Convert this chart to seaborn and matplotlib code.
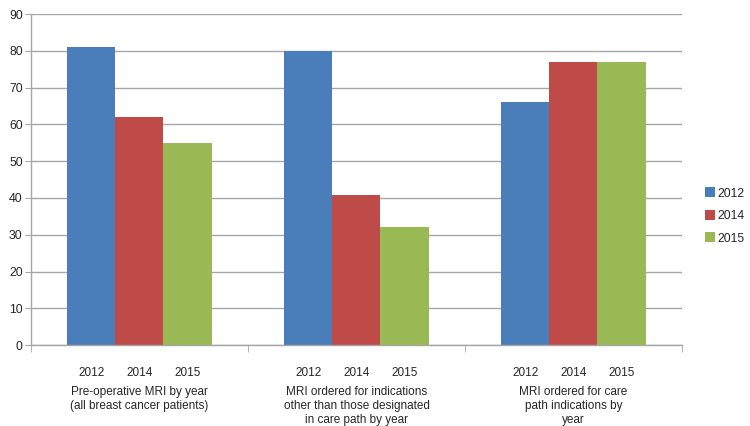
import pandas as pd
import matplotlib
matplotlib.use("Agg")
import matplotlib.pyplot as plt
import matplotlib.transforms as mtransforms
import seaborn as sns

# Données
groups = [
    "Pre-operative MRI by year\n(all breast cancer patients)",
    "MRI ordered for indications\nother than those designated\nin care path by year",
    "MRI ordered for care\npath indications by\nyear",
]
years = ["2012", "2014", "2015"]
values_2012 = [81, 80, 66]
values_2014 = [62, 40.7, 77]
values_2015 = [55, 32, 77]
colors = ["#4A7EBB", "#BE4B48", "#98B954"]

df = pd.DataFrame({
    "group": groups * 3,
    "year": [y for y in years for _ in groups],
    "value": values_2012 + values_2014 + values_2015,
})

sns.set_style("white")
plt.rcParams["font.family"] = ["Liberation Sans", "DejaVu Sans"]

fig = plt.figure(figsize=(7.5, 4.26), dpi=100)
ax = fig.add_axes([0.0413, 0.190, 0.868, 0.777])

sns.barplot(data=df, x="group", y="value", hue="year", hue_order=years,
            palette=colors, width=0.664, gap=0, saturation=1,
            errorbar=None, ax=ax, legend=True, linewidth=0)

ax.set_xlim(-0.5, len(groups) - 0.5)
ax.set_ylim(0, 90)
ax.set_yticks(range(0, 91, 10))
ax.yaxis.grid(True, color="#A6A6A6", linewidth=1)
ax.set_axisbelow(True)
for side in ["top", "right"]:
    ax.spines[side].set_visible(False)
for side in ["left", "bottom"]:
    ax.spines[side].set_color("#A6A6A6")
    ax.spines[side].set_linewidth(1)
ax.tick_params(axis="y", length=4, color="#A6A6A6", labelsize=8.8, pad=2,
               direction="out", left=True)
ax.set_xlabel("")
ax.set_ylabel("")

# Années sous chaque barre
centers, labels = [], []
for year, cont in zip(years, ax.containers):
    for bar in cont:
        centers.append(bar.get_x() + bar.get_width() / 2)
        labels.append(year)
ax.set_xticks(centers)
ax.set_xticklabels(labels)
ax.tick_params(axis="x", length=0, labelsize=8.5, pad=16)

# Séparateurs de groupes
ax.set_xticks([i - 0.5 for i in range(len(groups) + 1)], minor=True)
ax.tick_params(axis="x", which="minor", length=5, color="#A6A6A6",
               direction="out", bottom=True)

# Libellés de groupes
trans = mtransforms.blended_transform_factory(ax.transData, ax.transAxes)
for i, g in enumerate(groups):
    ax.text(i, -0.125, g, transform=trans, ha="center", va="top",
            fontsize=8.5, linespacing=1.2)

handles, leg_labels = ax.get_legend_handles_labels()
ax.legend_.remove()
fig.legend(handles, leg_labels, loc="center left", bbox_to_anchor=(0.940, 0.493),
           frameon=False, fontsize=8.8, handlelength=0.85, handleheight=0.85,
           handletextpad=0.15, labelspacing=0.85, borderpad=0, borderaxespad=0)

fig.savefig("out.png", dpi=100)
